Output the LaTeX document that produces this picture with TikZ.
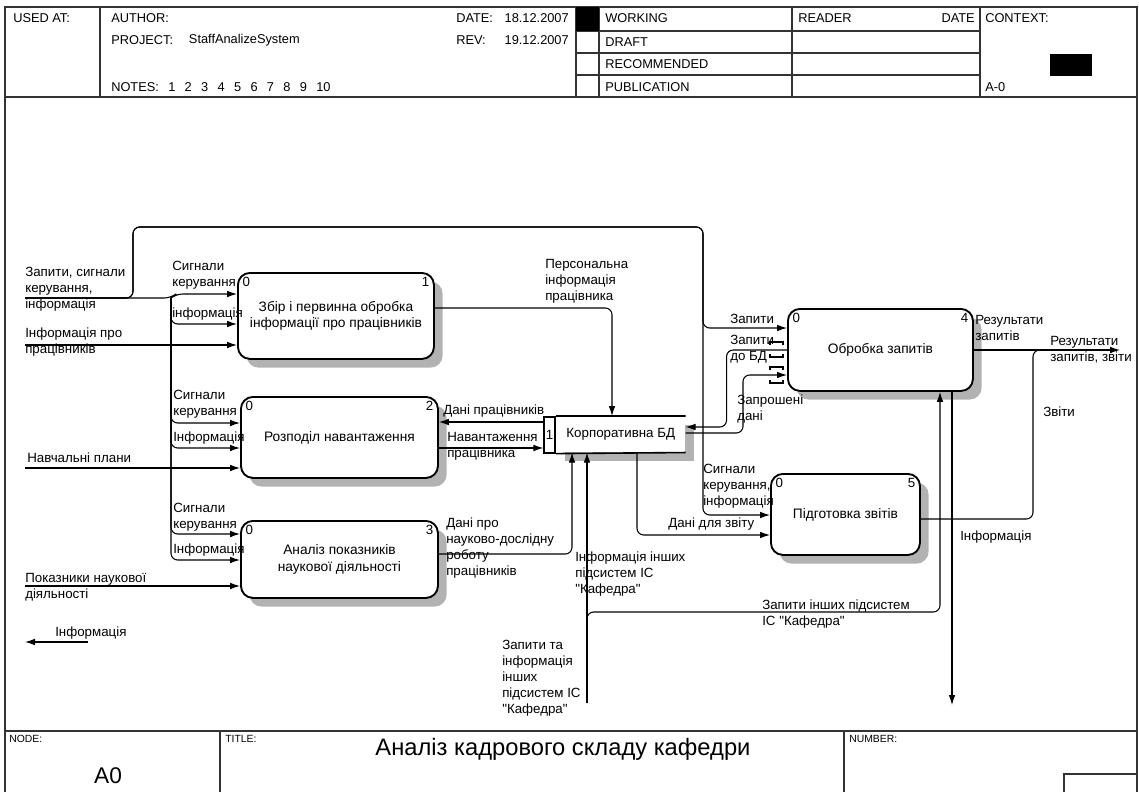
\documentclass[tikz,border=0pt]{standalone}
\usepackage{fontspec}
\setmainfont{Liberation Sans}[Ligatures=TeXOff]
\usetikzlibrary{positioning,calc,arrows.meta,shadows}

%one pixel of the sheet
\def\px{0.75pt}

\begin{document}
\begin{tikzpicture}
[x=\px,y=-\px,>={Latex[length=7.5pt,width=5pt]},
font=\fontsize{10}{12}\selectfont,
frame/.style={line width=0.8pt,draw=black!80},
func/.style={draw,line width=1.4pt,rounded corners=9pt,fill=white,align=center,anchor=north west,
  font=\fontsize{10.3}{12.5}\selectfont,
  drop shadow={shadow xshift=6.5pt,shadow yshift=-6.5pt,fill=black!30,opacity=1}},
num/.style={inner sep=4pt,font=\fontsize{10}{12}\selectfont},
arc/.style={line width=0.8pt,rounded corners=5pt},
tunnel/.style={line width=0.8pt},
lbl/.style={anchor=west,align=left,inner sep=0pt},
hdr/.style={anchor=west,inner sep=0pt,font=\fontsize{9.6}{11}\selectfont},
ftr/.style={anchor=north west,inner sep=0pt,font=\fontsize{7.8}{9}\selectfont},
]

%Sheet and frame
\useasboundingbox (0,0) rectangle (1139,792);
\draw[frame] (5,792) -- (5,7) -- (1137,7) -- (1137,792);
\draw[frame] (5,97) -- (1137,97);
\draw[frame] (5,731) -- (1137,731);

%Header cells
\draw[frame] (100,7) -- (100,97);
\draw[frame] (576,7) -- (576,97);
\draw[frame] (599,7) -- (599,97);
\draw[frame] (792,7) -- (792,97);
\draw[frame] (980,7) -- (980,97);
\draw[frame] (576,31) -- (980,31);
\draw[frame] (576,53) -- (980,53);
\draw[frame] (576,75) -- (980,75);
\fill (576,7) rectangle (599,31);
\fill (1050,54) rectangle (1092,76);

%Header texts
\node[hdr] (usedat) at (13,18) {USED AT:};
\node[hdr] (author) at (111,18) {AUTHOR:};
\node[hdr] (project) at (111,40) {PROJECT:};
\node[hdr,anchor=east] (projname) at (300,40) {StaffAnalizeSystem};
\node[hdr] (notes) at (111,87) {NOTES:\hspace{7pt}1\hspace{7pt}2\hspace{7pt}3\hspace{7pt}4\hspace{7pt}5\hspace{7pt}6\hspace{7pt}7\hspace{7pt}8\hspace{7pt}9\hspace{7pt}10};
\node[hdr] (date) at (456,18) {DATE:};
\node[hdr,anchor=east] (dateval) at (569,18) {18.12.2007};
\node[hdr] (rev) at (456,40) {REV:};
\node[hdr,anchor=east] (revval) at (569,40) {19.12.2007};
\node[hdr] (working) at (605,18) {WORKING};
\node[hdr] (draft) at (605,42) {DRAFT};
\node[hdr] (recom) at (605,64) {RECOMMENDED};
\node[hdr] (public) at (605,87) {PUBLICATION};
\node[hdr] (reader) at (798,18) {READER};
\node[hdr,anchor=east] (rdate) at (975,18) {DATE};
\node[hdr] (context) at (985,18) {CONTEXT:};
\node[hdr] (anode) at (985,87) {A-0};

%Footer
\draw[frame] (220,731) -- (220,792);
\draw[frame] (844,731) -- (844,792);
\draw[frame] (1064,792) -- (1064,774) -- (1137,774);
\node[ftr] (nodelbl) at (9,735) {NODE:};
\node[ftr] (titlelbl) at (225,735) {TITLE:};
\node[ftr] (numlbl) at (849,735) {NUMBER:};
\node[font=\fontsize{17}{20}\selectfont] (nodeval) at (108,776) {A0};
\node[font=\fontsize{17.8}{20}\selectfont] (title) at (563,749) {Аналіз кадрового складу кафедри};

%Function boxes
\node[func,minimum width=196*\px,minimum height=86*\px,
  label={[num,anchor=north west]north west:0},label={[num,anchor=north east]north east:1}]
  (b1) at (237,272) {Збір і первинна обробка\\інформації про працівників};
\node[func,minimum width=197*\px,minimum height=81*\px,
  label={[num,anchor=north west]north west:0},label={[num,anchor=north east]north east:2}]
  (b2) at (240,396) {Розподіл навантаження};
\node[func,minimum width=197*\px,minimum height=77*\px,
  label={[num,anchor=north west]north west:0},label={[num,anchor=north east]north east:3}]
  (b3) at (240,520) {Аналіз показників\\наукової діяльності};
\node[func,minimum width=185*\px,minimum height=82*\px,
  label={[num,anchor=north west]north west:0},label={[num,anchor=north east]north east:4}]
  (b4) at (787,308) {Обробка запитів};
\node[func,minimum width=149*\px,minimum height=81*\px,
  label={[num,anchor=north west]north west:0},label={[num,anchor=north east]north east:5}]
  (b5) at (770,473) {Підготовка звітів};

%Data store
\node[fill=white,minimum width=129*\px,minimum height=36*\px,anchor=north west,
  drop shadow={shadow xshift=6.5pt,shadow yshift=-6.5pt,fill=black!30,opacity=1}]
  (db) at (556,416) {Корпоративна БД};
\node[draw,line width=1.2pt,fill=white,minimum width=11*\px,minimum height=36*\px,inner sep=0pt,anchor=north east]
  (dbn) at (db.north west) {1};
\draw[line width=1.2pt] (dbn.north east) -- (db.north east) (dbn.south east) -- (db.south east);

%Free ends and bends
\coordinate (in1) at (25,298);
\coordinate (in2) at (25,345);
\coordinate (in3) at (25,468);
\coordinate (in4) at (25,586);
\coordinate (sp) at (133,298);
\coordinate (bus) at (171,298);
\coordinate (tl) at (703,227);
\coordinate (ext) at (587,703);
\coordinate (qb) at (940,612);
\coordinate (dn) at (952,705);
\coordinate (jn) at (1033,350);
\coordinate (res) at (1120,350);
\coordinate (oi) at (88,642);
\coordinate (oe) at (25,642);

%Inputs of boxes 1-3
\draw[arc,->] (in1) -- (bus) -- ++(5,-4) -- ($(b1.north west)+(0,22)$);
\draw[arc,->] (bus) |- ($(b1.north west)+(0,52)$);
\draw[arc,->] (in2) -- (b1.west |- in2);
\draw[arc,->] (bus) |- ($(b2.north west)+(0,27)$);
\draw[arc,->] (bus) |- ($(b2.north west)+(0,52)$);
\draw[arc,->] (in3) -- (b2.west |- in3);
\draw[arc,->] (bus) |- ($(b3.north west)+(0,14)$);
\draw[arc,->] (bus) |- ($(b3.north west)+(0,40)$);
\draw[arc,->] (in4) -- (b3.west |- in4);
\draw[arc,->] (oi) -- (oe);

%Upper loop to boxes 4 and 5
\draw[arc,->] (in1) -- (sp) |- (tl) |- ($(b4.north west)+(0,20)$);
\draw[arc,->] (in1) -- (sp) |- (tl) |- ($(b5.north west)+(0,42)$);

%Store connections
\draw[arc,->] ($(b1.north east)+(0,36)$) -| ($(db.north west)+(56,0)$);
\draw[arc,->] ($(dbn.north west)+(0,6)$) -- ($(b2.north east)+(0,26)$);
\draw[arc,->] ($(b2.north east)+(0,52)$) -- ($(dbn.north west)+(0,32)$);
\draw[arc,->] ($(b3.north east)+(0,34)$) -| ($(db.south west)+(16,0)$);
\draw[arc,->] (ext) -- ($(db.south west)+(31,0)$);
\draw[arc,->] ($(db.south west)+(81,0)$) |- ($(b5.north west)+(0,62)$);
\draw[arc,->] ($(b4.north west)+(0,42)$) -| ($(db.north east)+(41,11)$) -- ($(db.north east)+(0,11)$);
\draw[arc,->] ($(db.north east)+(0,17)$) -| ($(b4.north west)+(-44,67)$) -- ($(b4.north west)+(0,67)$);

%Tunnels at box 4
\draw[tunnel] ($(b4.north west)+(-17,37)$) -- ++(0,-3) -- ++(13,0) -- ++(0,3);
\draw[tunnel] ($(b4.north west)+(-17,46)$) -- ++(0,3) -- ++(13,0) -- ++(0,-3);
\draw[tunnel] ($(b4.north west)+(-17,62)$) -- ++(0,-3) -- ++(13,0) -- ++(0,3);
\draw[tunnel] ($(b4.north west)+(-17,72)$) -- ++(0,3) -- ++(13,0) -- ++(0,-3);

%Outputs of boxes 4 and 5
\draw[arc,->] (ext) |- (qb) -- ($(b4.south west)+(153,0)$);
\draw[arc,->] ($(b4.south west)+(165,0)$) -- (dn);
\draw[arc,->] ($(b4.north east)+(0,42)$) -- (res);
\draw[arc] ($(b5.north east)+(0,46)$) -| (jn) -- ++(12,0);

%Arrow labels
\node[lbl] (lin1) at (25,289) {Запити, сигнали\\керування,\\інформація};
\node[lbl] (ls1) at (172,275) {Сигнали\\керування};
\node[lbl] (li1) at (172,314) {інформація};
\node[lbl] (lin2) at (25,342) {Інформація про\\працівників};
\node[lbl] (ls2) at (173,404) {Сигнали\\керування};
\node[lbl] (li2) at (173,438) {Інформація};
\node[lbl] (lin3) at (27,458) {Навчальні плани};
\node[lbl] (ls3) at (173,517) {Сигнали\\керування};
\node[lbl] (li3) at (173,550) {Інформація};
\node[lbl] (lin4) at (25,587) {Показники наукової\\діяльності};
\node[lbl] (lout) at (55,633) {Інформація};
\node[lbl] (lpers) at (545,281) {Персональна\\інформація\\працівника};
\node[lbl] (ldp) at (443,411) {Дані працівників};
\node[lbl] (lnav) at (447,446) {Навантаження\\працівника};
\node[lbl] (lnd) at (446,548) {Дані про\\науково-дослідну\\роботу\\працівників};
\node[lbl] (lii) at (575,574) {Інформація інших\\підсистем ІС\\"Кафедра"};
\node[lbl] (lext) at (502,678) {Запити та\\інформація\\інших\\підсистем ІС\\"Кафедра"};
\node[lbl] (lzi) at (762,614) {Запити інших підсистем\\ІС "Кафедра"};
\node[lbl] (lz) at (730,319) {Запити};
\node[lbl] (lzdb) at (730,349) {Запити\\до БД};
\node[lbl] (lzd) at (737,409) {Запрошені\\дані};
\node[lbl] (ls5) at (703,486) {Сигнали\\керування,\\інформація};
\node[lbl] (ldz) at (668,524) {Дані для звіту};
\node[lbl] (lr4) at (975,328) {Результати\\запитів};
\node[lbl] (lrz) at (1050,350) {Результати\\запитів, звіти};
\node[lbl] (lzv) at (1043,412) {Звіти};
\node[lbl] (li5) at (960,537) {Інформація};

\end{tikzpicture}
\end{document}
